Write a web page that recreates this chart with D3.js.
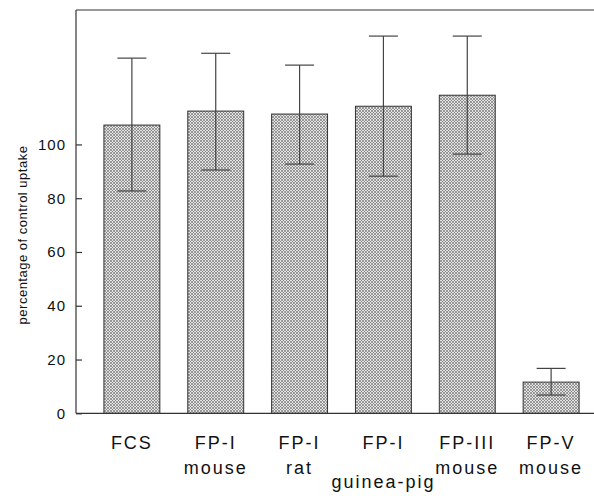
<!DOCTYPE html>
<html><head><meta charset="utf-8">
<script src="https://cdn.jsdelivr.net/npm/d3@7"></script>
<style>body{margin:0;background:#fff}svg{display:block}text{font-family:"Liberation Sans",Arial,sans-serif;fill:#111}</style>
</head><body><svg id="c" width="594" height="496"></svg>
<script>
const categories = ["FCS", "FP-I mouse", "FP-I rat", "FP-I guinea-pig", "FP-III mouse", "FP-V mouse"];
const labelLine1 = ["FCS", "FP-I", "FP-I", "FP-I", "FP-III", "FP-V"];
const labelLine2 = ["", "mouse", "rat", "", "mouse", "mouse"];
const labelLine3 = ["", "", "", "guinea-pig", "", ""];
const values = [107.2, 112.4, 111.3, 114.2, 118.3, 11.6];
const errUpper = [132.1, 133.9, 129.5, 140.3, 140.3, 16.7];
const errLower = [82.7, 90.5, 92.7, 88.2, 96.4, 6.8];
const yTicks = [0, 20, 40, 60, 80, 100];

const svg = d3.select("#c");
const L = 76, T = 10, B = 413.3, R = 607;
const x = d3.scaleBand().domain(categories).range([L, R]).paddingInner(0.333).paddingOuter(0.333);
const y = d3.scaleLinear().domain([0, 150]).range([B, T]);

const defs = svg.append("defs");
const pat = defs.append("pattern").attr("id", "hatch").attr("patternUnits", "userSpaceOnUse")
  .attr("width", 3).attr("height", 3);
pat.append("rect").attr("width", 3).attr("height", 3).attr("fill", "#e4e4e4");
pat.append("path").attr("d", "M0,0L3,3M3,0L0,3").attr("stroke", "#777").attr("stroke-width", 0.7);

// bars
svg.selectAll("rect.bar").data(categories).join("rect").attr("class", "bar")
  .attr("x", d => x(d)).attr("width", x.bandwidth())
  .attr("y", (d, i) => y(values[i])).attr("height", (d, i) => y(0) - y(values[i]))
  .attr("fill", "url(#hatch)").attr("stroke", "#333").attr("stroke-width", 1);

// error bars
const cap = 14.5;
const eb = svg.append("g").attr("stroke", "#444").attr("stroke-width", 1.2);
categories.forEach((c, i) => {
  const cx = x(c) + x.bandwidth() / 2;
  eb.append("line").attr("x1", cx).attr("x2", cx).attr("y1", y(errUpper[i])).attr("y2", y(errLower[i]));
  eb.append("line").attr("x1", cx - cap).attr("x2", cx + cap).attr("y1", y(errUpper[i])).attr("y2", y(errUpper[i]));
  eb.append("line").attr("x1", cx - cap).attr("x2", cx + cap).attr("y1", y(errLower[i])).attr("y2", y(errLower[i]));
});

// frame lines
svg.append("line").attr("x1", L).attr("x2", 594).attr("y1", T).attr("y2", T).attr("stroke", "#333").attr("stroke-width", 1.2);
svg.append("line").attr("x1", L).attr("x2", 594).attr("y1", B).attr("y2", B).attr("stroke", "#333").attr("stroke-width", 1.2);

// y axis
const yAxis = svg.append("g").attr("transform", `translate(${L},0)`)
  .call(d3.axisRight(y).tickValues(yTicks).tickSize(6).tickFormat(""));
yAxis.select(".domain").attr("d", `M0,${T}V${B}`).attr("stroke", "#333").attr("stroke-width", 1.2);
yAxis.selectAll(".tick line").attr("stroke", "#333").attr("stroke-width", 1.2);
svg.append("g").selectAll("text").data(yTicks).join("text")
  .attr("x", 66).attr("y", d => y(d) + 5.5).attr("text-anchor", "end")
  .attr("font-size", 15).attr("letter-spacing", 1).text(d => d);

// y label
svg.append("text").attr("transform", `translate(27,235) rotate(-90)`).attr("text-anchor", "middle")
  .attr("font-size", 13).attr("letter-spacing", 0.5).text("percentage of control uptake");

// x labels
const xl = svg.append("g").attr("font-size", 18).attr("text-anchor", "middle").attr("letter-spacing", 2);
categories.forEach((c, i) => {
  const cx = x(c) + x.bandwidth() / 2;
  xl.append("text").attr("x", cx).attr("y", 449).text(labelLine1[i]);
  if (labelLine2[i]) xl.append("text").attr("x", cx).attr("y", 474).text(labelLine2[i]);
  if (labelLine3[i]) xl.append("text").attr("x", cx).attr("y", 488).text(labelLine3[i]);
});
</script></body></html>
